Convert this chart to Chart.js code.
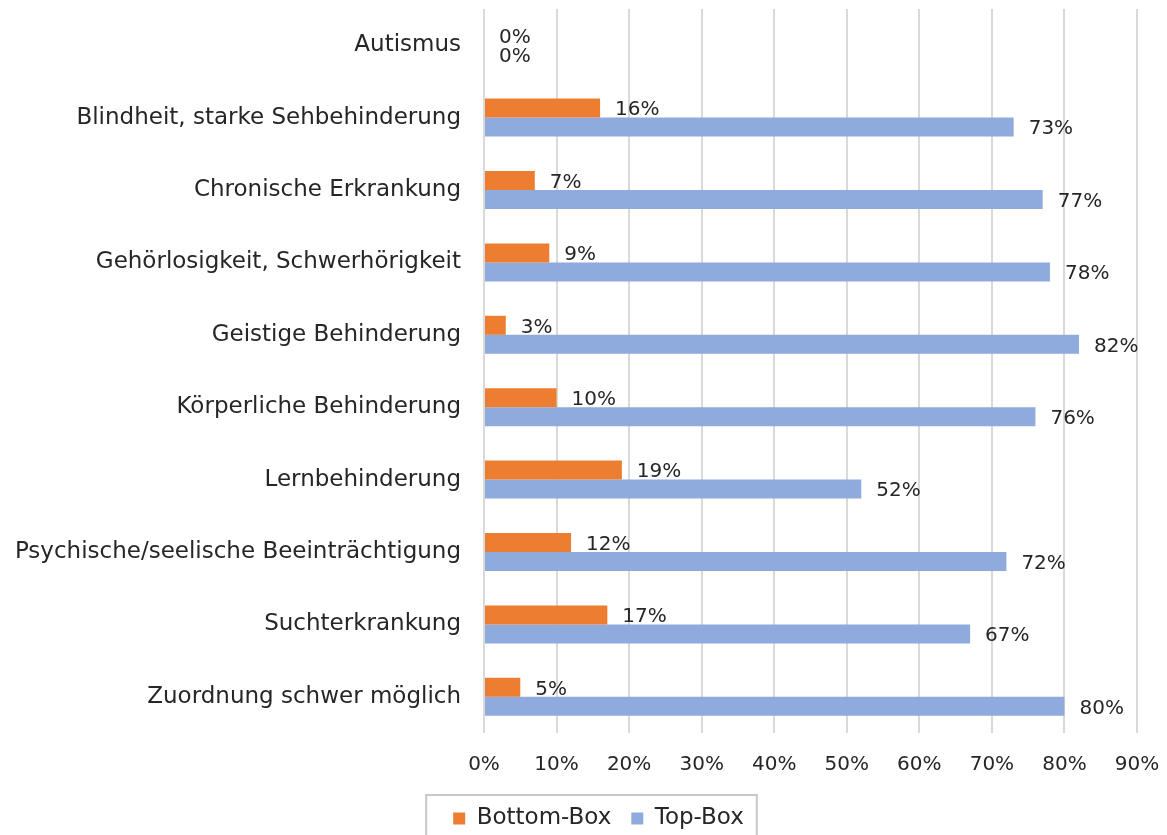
<!DOCTYPE html>
<html>
<head>
<meta charset="utf-8">
<script src="https://cdn.jsdelivr.net/npm/chart.js@4/dist/chart.umd.min.js"></script>
<style>
html,body{margin:0;padding:0;background:#fff;}
#wrap{width:1167px;height:835px;position:relative;}
</style>
</head>
<body>
<div id="wrap"><canvas id="c" width="1167" height="835"></canvas></div>
<script>
const categories = [
  "Autismus",
  "Blindheit, starke Sehbehinderung",
  "Chronische Erkrankung",
  "Gehörlosigkeit, Schwerhörigkeit",
  "Geistige Behinderung",
  "Körperliche Behinderung",
  "Lernbehinderung",
  "Psychische/seelische Beeinträchtigung",
  "Suchterkrankung",
  "Zuordnung schwer möglich"
];
const bottomBox = [0, 16, 7, 9, 3, 10, 19, 12, 17, 5];
const topBox = [0, 73, 77, 78, 82, 76, 52, 72, 67, 80];
const seriesNames = ["Bottom-Box", "Top-Box"];
const xTicks = [0, 10, 20, 30, 40, 50, 60, 70, 80, 90];

const FONT = "'DejaVu Sans', sans-serif";
const FS_CAT = 23;
const FS_NUM = 20;

function zeroPad(scale) {
  scale.paddingTop = 0; scale.paddingBottom = 0;
  scale.paddingLeft = 0; scale.paddingRight = 0;
}

const valueLabels = {
  id: 'valueLabels',
  afterDatasetsDraw(chart) {
    const ctx = chart.ctx;
    ctx.save();
    ctx.font = FS_NUM + "px " + FONT;
    ctx.fillStyle = '#262626';
    ctx.textAlign = 'left';
    ctx.textBaseline = 'middle';
    chart.data.datasets.forEach((ds, di) => {
      const meta = chart.getDatasetMeta(di);
      meta.data.forEach((el, i) => {
        ctx.fillText(Math.round(ds.data[i]) + '%', el.x + 15, el.y + 2);
      });
    });
    ctx.restore();
  }
};

const legendShift = {
  id: 'legendShift',
  afterLayout(chart) {
    const lg = chart.legend;
    if (lg) { lg.left += 30; lg.right += 30; }
  }
};

const legendBorder = {
  id: 'legendBorder',
  afterDraw(chart) {
    const lg = chart.legend;
    if (!lg || !lg.legendHitBoxes || !lg.legendHitBoxes.length) return;
    let minL = Infinity, maxR = -Infinity;
    lg.legendHitBoxes.forEach(h => { minL = Math.min(minL, h.left); maxR = Math.max(maxR, h.left + h.width); });
    const ctx = chart.ctx;
    ctx.save();
    ctx.strokeStyle = '#c8c8c8';
    ctx.lineWidth = 2;
    ctx.strokeRect(minL - 27, lg.top + 8, (maxR + 13) - (minL - 27), 80);
    ctx.restore();
  }
};

new Chart(document.getElementById('c'), {
  type: 'bar',
  data: {
    labels: categories,
    datasets: [
      { label: seriesNames[0], data: bottomBox, backgroundColor: '#ED7D31', categoryPercentage: 0.525, barPercentage: 1.0 },
      { label: seriesNames[1], data: topBox, backgroundColor: '#8FAADC', categoryPercentage: 0.525, barPercentage: 1.0 }
    ]
  },
  options: {
    indexAxis: 'y',
    responsive: false,
    animation: false,
    layout: { padding: { top: 9, right: 30, left: 0, bottom: -5 } },
    scales: {
      x: {
        min: 0, max: 90,
        afterBuildTicks(scale) { scale.ticks = xTicks.map(v => ({ value: v })); },
        afterFit(scale) { scale.height = 54; zeroPad(scale); },
        ticks: {
          callback: v => v + '%',
          font: { family: FONT, size: FS_NUM },
          color: '#262626',
          padding: 20,
          maxRotation: 0
        },
        grid: { color: '#d9d9d9', lineWidth: 2, drawTicks: false, tickLength: 0 },
        border: { display: false }
      },
      y: {
        afterFit(scale) { scale.width = 484; zeroPad(scale); },
        ticks: {
          font: { family: FONT, size: FS_CAT },
          color: '#262626',
          padding: 23
        },
        grid: { display: false, drawTicks: false, tickLength: 0 },
        border: { display: false }
      }
    },
    plugins: {
      legend: {
        position: 'bottom',
        labels: {
          boxWidth: 12, boxHeight: 12,
          font: { family: FONT, size: FS_CAT },
          color: '#262626',
          padding: 20
        }
      },
      tooltip: { enabled: false }
    }
  },
  plugins: [legendShift, valueLabels, legendBorder]
});
</script>
</body>
</html>
